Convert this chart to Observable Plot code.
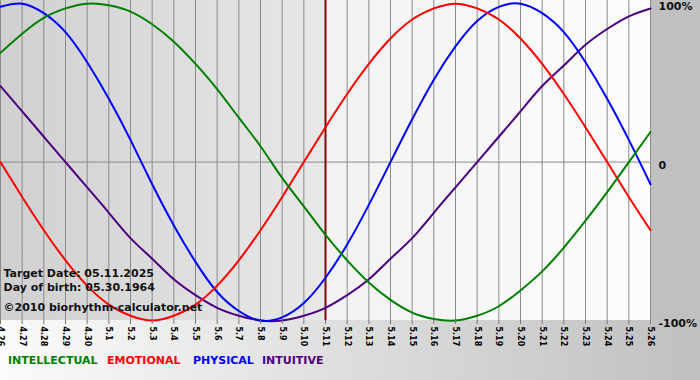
<!DOCTYPE html>
<html>
<head>
<meta charset="utf-8">
<script src="https://cdn.jsdelivr.net/npm/d3@7"></script>
<script src="https://cdn.jsdelivr.net/npm/@observablehq/plot@0.6"></script>
<style>
  body { margin: 0; }
  #wrap { position: relative; width: 700px; height: 380px; overflow: hidden;
          background: linear-gradient(to right, #fbfbfb, #c0c0c0);
          font-family: "DejaVu Sans", Verdana, sans-serif; }
  #panel { position: absolute; left: 650px; top: 0; width: 50px; height: 320px; background: #c0c0c0; }
  #chart { position: absolute; left: 0; top: 0; width: 700px; }
  #legend { position: absolute; left: 0; top: 354px; width: 700px; height: 16px;
            font: bold 11px "DejaVu Sans", Verdana, sans-serif; white-space: nowrap; }
  #legend span { position: absolute; top: 0; }
</style>
</head>
<body>
<div id="wrap">
  <div id="panel"></div>
  <div id="chart"></div>
  <div id="legend"></div>
</div>
<script>
const days = ["4.26","4.27","4.28","4.29","4.30","5.1","5.2","5.3","5.4","5.5","5.6","5.7","5.8","5.9","5.10",
              "5.11","5.12","5.13","5.14","5.15","5.16","5.17","5.18","5.19","5.20","5.21","5.22","5.23","5.24","5.25","5.26"];
const intellectual = [0.69,0.81,0.91,0.97,1.00,0.99,0.95,0.87,0.76,0.62,0.46,0.28,0.10,-0.10,-0.28,-0.46,
                      -0.62,-0.76,-0.87,-0.95,-0.99,-1.00,-0.97,-0.91,-0.81,-0.69,-0.54,-0.37,-0.19,0.00,0.19];
const emotional = [0.00,-0.22,-0.43,-0.62,-0.78,-0.90,-0.97,-1.00,-0.97,-0.90,-0.78,-0.62,-0.43,-0.22,0.00,0.22,
                   0.43,0.62,0.78,0.90,0.97,1.00,0.97,0.90,0.78,0.62,0.43,0.22,0.00,-0.22,-0.43];
const physical = [0.98,1.00,0.94,0.82,0.63,0.40,0.14,-0.14,-0.40,-0.63,-0.82,-0.94,-1.00,-0.98,-0.89,-0.73,
                  -0.52,-0.27,0.00,0.27,0.52,0.73,0.89,0.98,1.00,0.94,0.82,0.63,0.40,0.14,-0.14];
const intuitive = [0.48,0.32,0.16,0.00,-0.16,-0.32,-0.48,-0.61,-0.74,-0.84,-0.92,-0.97,-1.00,-1.00,-0.97,-0.92,
                   -0.84,-0.74,-0.61,-0.48,-0.32,-0.16,0.00,0.16,0.32,0.48,0.61,0.74,0.84,0.92,0.97];
const seriesNames = ["INTELLECTUAL","EMOTIONAL","PHYSICAL","INTUITIVE"];
const seriesColors = ["#008000","#ff0000","#0000ff","#4b0082"];
const targetDay = "5.11";
const yTicks = [-1, 0, 1];
const yTickLabels = ["-100%", "0", "100%"];
const notes = ["Target Date: 05.11.2025", "Day of birth: 05.30.1964", "\u00a92010 biorhythm-calculator.net"];

const seriesValues = [intellectual, emotional, physical, intuitive];
const rows = [];
seriesNames.forEach((s, k) => seriesValues[k].forEach((v, i) => rows.push({i, v, s})));
const drawOrder = ["INTUITIVE","PHYSICAL","EMOTIONAL","INTELLECTUAL"];
rows.sort((a, b) => drawOrder.indexOf(a.s) - drawOrder.indexOf(b.s));

const dayIdx = d3.range(days.length);
const firstI = 0, lastI = days.length - 1, targetI = days.indexOf(targetDay);

const plot = Plot.plot({
  width: 700,
  height: 348,
  marginLeft: 0,
  marginRight: 50,
  marginTop: 0,
  marginBottom: 28,
  style: {background: "transparent", fontFamily: "DejaVu Sans, Verdana, sans-serif", color: "#000"},
  x: {domain: [firstI, lastI], range: [0, 650]},
  y: {domain: [-1, 1.02], range: [320, 0]},
  color: {domain: seriesNames, range: seriesColors},
  marks: [
    Plot.rect([{a: firstI, b: targetI}], {x1: "a", x2: "b", fill: "url(#bgLeft)"}),
    Plot.rect([{a: targetI, b: lastI}], {x1: "a", x2: "b", fill: "url(#bgRight)"}),
    Plot.ruleX(dayIdx, {stroke: "#8a8a8a", strokeWidth: 1}),
    Plot.ruleY([0], {stroke: "#8a8a8a", strokeWidth: 1}),
    Plot.ruleX([targetI], {stroke: "#7a0c0c", strokeWidth: 2}),
    Plot.line(rows, {x: "i", y: "v", z: "s", stroke: "s", strokeWidth: 2, curve: "natural"}),
    Plot.text([notes[0]], {frameAnchor: "bottom-left", dx: 3, dy: -44, textAnchor: "start", lineAnchor: "bottom",
                           fontSize: 11, fontWeight: "bold", fill: "#111"}),
    Plot.text([notes[1]], {frameAnchor: "bottom-left", dx: 3, dy: -30, textAnchor: "start", lineAnchor: "bottom",
                           fontSize: 11, fontWeight: "bold", fill: "#111"}),
    Plot.text([notes[2]], {frameAnchor: "bottom-left", dx: 3, dy: -10, textAnchor: "start", lineAnchor: "bottom",
                           fontSize: 11, fontWeight: "bold", fill: "#111"}),
    Plot.axisX({anchor: "bottom", ticks: dayIdx, tickFormat: (i) => days[i], tickRotate: 90, tickSize: 4, tickPadding: 2,
                fontSize: 8, fontWeight: "bold", stroke: "#777", label: null}),
    Plot.axisY({anchor: "right", ticks: yTicks, tickSize: 0, tickPadding: 8, dy: 3,
                tickFormat: (d) => yTickLabels[yTicks.indexOf(d)],
                fontSize: 11, fontWeight: "bold", fill: "#111", label: null})
  ]
});

// gradient definitions for the background regions
const ns = "http://www.w3.org/2000/svg";
const defs = document.createElementNS(ns, "defs");
function grad(id, c0, c1) {
  const g = document.createElementNS(ns, "linearGradient");
  g.setAttribute("id", id);
  g.setAttribute("x1", "0"); g.setAttribute("x2", "1"); g.setAttribute("y1", "0"); g.setAttribute("y2", "0");
  [[0, c0], [1, c1]].forEach(([o, c]) => {
    const s = document.createElementNS(ns, "stop");
    s.setAttribute("offset", o); s.setAttribute("stop-color", c);
    g.appendChild(s);
  });
  defs.appendChild(g);
}
grad("bgLeft", "#d0d0d0", "#e8e8e8");
grad("bgRight", "#f2f2f2", "#fcfcfc");
plot.insertBefore(defs, plot.firstChild);

document.getElementById("chart").appendChild(plot);

// legend
const legend = document.getElementById("legend");
const legendLeft = [8, 107, 193, 262];
seriesNames.forEach((name, k) => {
  const sp = document.createElement("span");
  sp.textContent = name;
  sp.style.color = seriesColors[k];
  sp.style.left = legendLeft[k] + "px";
  legend.appendChild(sp);
});
</script>
</body>
</html>
